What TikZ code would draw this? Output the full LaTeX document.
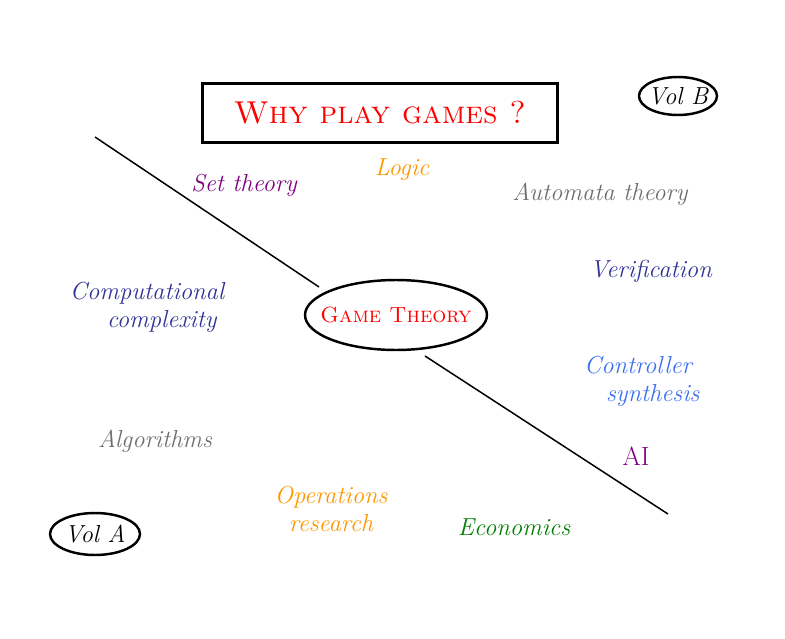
\documentclass[tikz,border=0pt]{standalone}
\usepackage{fontspec}
\usetikzlibrary{shapes.geometric}
\definecolor{topicblue}{RGB}{50,50,150}
\definecolor{lightblue}{RGB}{60,110,240}
\definecolor{topicpurple}{RGB}{128,0,128}
\definecolor{topicorange}{RGB}{255,150,0}
\definecolor{topicgray}{RGB}{110,110,110}
\definecolor{topicgreen}{RGB}{0,128,0}
\tikzset{
  topic/.style={font=\fontsize{14}{16}\selectfont\itshape, align=center},
  vol/.style={font=\fontsize{14}{16}\selectfont\itshape},
  oval/.style={line width=1.4pt}
}
\begin{document}
\begin{tikzpicture}[x=0.02cm,y=-0.02cm]
  \useasboundingbox (0,0) rectangle (785,639);
  % Title box
  \node[draw, line width=1.6pt, minimum width=7.1cm, minimum height=1.18cm,
        text=red, font=\fontsize{18}{20}\selectfont\scshape] (title) at (380,113) {Why play games ?};
  % Volumes
  \node[vol] (volB) at (678,96) {Vol B};
  \draw[oval] (volB.center) ellipse [x radius=0.78cm, y radius=0.38cm];
  \node[vol] (volA) at (95,534) {Vol A};
  \draw[oval] (volA.center) ellipse [x radius=0.9cm, y radius=0.42cm];
  % Centre
  \node[text=red, font=\fontsize{12.5}{15}\selectfont\scshape] (game) at (396,315) {Game Theory};
  \draw[oval] (game.center) ellipse [x radius=1.82cm, y radius=0.7cm];
  \coordinate (upper) at (95,137);
  \coordinate (upperend) at (319,287);
  \coordinate (lowerend) at (425,356);
  \coordinate (lower) at (668,514);
  \draw[line width=0.85pt] (upper) -- (upperend);
  \draw[line width=0.85pt] (lowerend) -- (lower);
  % Topics
  \node[topic, text=topicpurple] (set) at (244,185) {Set theory};
  \node[topic, text=topicorange] (logic) at (402,170) {Logic};
  \node[topic, text=topicgray] (automata) at (600,194) {Automata theory};
  \node[topic, text=topicblue] (verif) at (651,271) {Verification};
  \node[topic, text=topicblue] (complexity) at (147,307) {Computational\\\hspace*{1.2em}complexity};
  \node[topic, text=lightblue] (synth) at (638,381) {Controller\\\hspace*{1.2em}synthesis};
  \node[topic, text=topicpurple, font=\fontsize{15}{17}\selectfont] (ai) at (636,456) {AI};
  \node[topic, text=topicgray] (algo) at (155,441) {Algorithms};
  \node[topic, text=topicorange] (opres) at (331,509) {Operations\\research};
  \node[topic, text=topicgreen] (econ) at (514,527) {Economics};
\end{tikzpicture}
\end{document}
